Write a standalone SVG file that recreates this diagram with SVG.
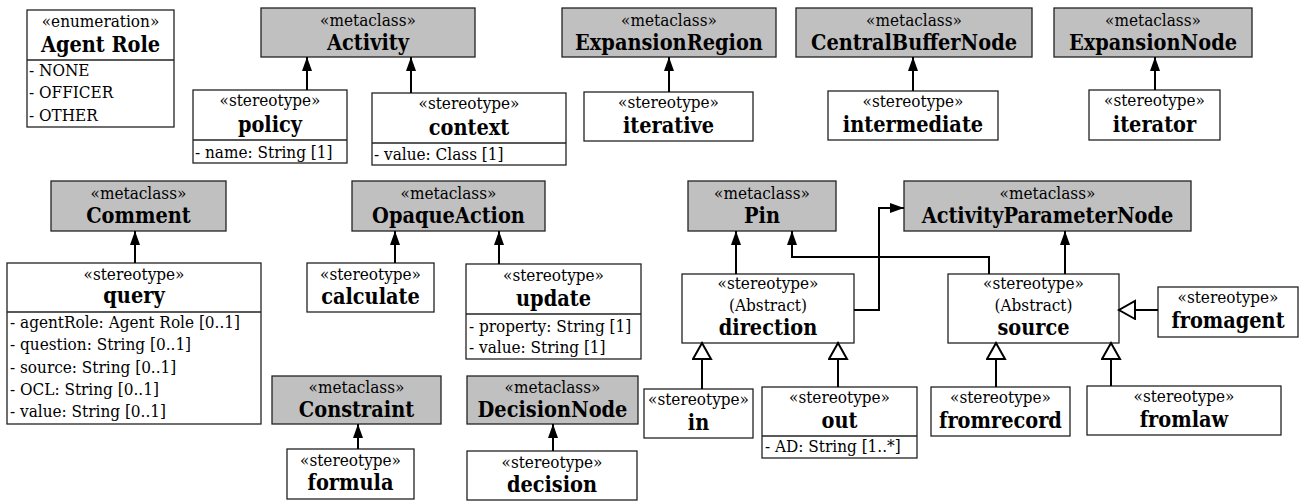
<svg xmlns="http://www.w3.org/2000/svg" width="1301" height="501" viewBox="0 0 1301 501">
  <style>
    .box { fill: #ffffff; stroke: #222222; stroke-width: 1.3; }
    .meta { fill: #c0c0c0; stroke: #222222; stroke-width: 1.3; }
    .div { stroke: #222222; stroke-width: 1.3; }
    .st { font-size: 17px; text-anchor: middle; }
    .ab { font-size: 17px; text-anchor: middle; }
    .tt { font-size: 21.5px; font-weight: bold; text-anchor: middle; }
    .at { font-size: 17px; }
    .ext { fill: none; stroke: #000; stroke-width: 2; marker-end: url(#filled); }
    .gen { fill: none; stroke: #000; stroke-width: 2; marker-end: url(#hollow); }
  </style>
  <defs>
    <marker id="filled" markerUnits="userSpaceOnUse" markerWidth="16" markerHeight="12" refX="14" refY="5.5" orient="auto">
      <path d="M0,0.5 L14,5.5 L0,10.5 z" fill="#000"/>
    </marker>
    <marker id="hollow" markerUnits="userSpaceOnUse" markerWidth="20" markerHeight="22" refX="17" refY="10" orient="auto">
      <path d="M1,1 L17,10 L1,19 z" fill="#fff" stroke="#000" stroke-width="2"/>
    </marker>
  </defs>
  <rect width="1301" height="501" fill="#ffffff"/>

  <g font-family="DejaVu Serif Condensed, DejaVu Serif, serif" font-stretch="condensed" fill="#000">
  <!-- enumeration -->
  <g id="agent-role">
    <rect class="box" x="27" y="10" width="147" height="117"/>
    <line class="div" x1="27" y1="60" x2="174" y2="60"/>
    <text class="st" x="100.5" y="27">«enumeration»</text>
    <text class="tt" x="100.5" y="52">Agent Role</text>
    <text class="at" x="29" y="76">- NONE</text>
    <text class="at" x="29" y="98">- OFFICER</text>
    <text class="at" x="29" y="121">- OTHER</text>
  </g>

  <!-- metaclasses -->
  <g id="activity">
    <rect class="meta" x="261" y="8" width="214" height="49"/>
    <text class="st" x="368" y="26">«metaclass»</text>
    <text class="tt" x="368" y="50">Activity</text>
  </g>
  <g id="expansion-region">
    <rect class="meta" x="562" y="8" width="214" height="49"/>
    <text class="st" x="669" y="26">«metaclass»</text>
    <text class="tt" x="669" y="50">ExpansionRegion</text>
  </g>
  <g id="central-buffer-node">
    <rect class="meta" x="796" y="8" width="236" height="49"/>
    <text class="st" x="914" y="26">«metaclass»</text>
    <text class="tt" x="914" y="50">CentralBufferNode</text>
  </g>
  <g id="expansion-node">
    <rect class="meta" x="1054" y="8" width="198" height="49"/>
    <text class="st" x="1153" y="26">«metaclass»</text>
    <text class="tt" x="1153" y="50">ExpansionNode</text>
  </g>
  <g id="comment">
    <rect class="meta" x="51" y="181" width="175" height="50"/>
    <text class="st" x="138.5" y="199">«metaclass»</text>
    <text class="tt" x="138.5" y="223">Comment</text>
  </g>
  <g id="opaque-action">
    <rect class="meta" x="352" y="181" width="193" height="50"/>
    <text class="st" x="448.5" y="199">«metaclass»</text>
    <text class="tt" x="448.5" y="223">OpaqueAction</text>
  </g>
  <g id="pin">
    <rect class="meta" x="688" y="181" width="148" height="50"/>
    <text class="st" x="762" y="199">«metaclass»</text>
    <text class="tt" x="762" y="223">Pin</text>
  </g>
  <g id="activity-parameter-node">
    <rect class="meta" x="904" y="181" width="287" height="50"/>
    <text class="st" x="1047.5" y="199">«metaclass»</text>
    <text class="tt" x="1047.5" y="223">ActivityParameterNode</text>
  </g>
  <g id="constraint">
    <rect class="meta" x="272" y="376" width="169" height="48"/>
    <text class="st" x="356.5" y="393">«metaclass»</text>
    <text class="tt" x="356.5" y="417">Constraint</text>
  </g>
  <g id="decision-node">
    <rect class="meta" x="467" y="376" width="171" height="48"/>
    <text class="st" x="552.5" y="393">«metaclass»</text>
    <text class="tt" x="552.5" y="417">DecisionNode</text>
  </g>

  <!-- stereotypes -->
  <g id="policy">
    <rect class="box" x="193" y="90" width="154" height="73"/>
    <line class="div" x1="193" y1="140" x2="347" y2="140"/>
    <text class="st" x="270" y="106">«stereotype»</text>
    <text class="tt" x="270" y="132">policy</text>
    <text class="at" x="195" y="158">- name: String [1]</text>
  </g>
  <g id="context">
    <rect class="box" x="372" y="93" width="194" height="72"/>
    <line class="div" x1="372" y1="143" x2="566" y2="143"/>
    <text class="st" x="469" y="109">«stereotype»</text>
    <text class="tt" x="469" y="135">context</text>
    <text class="at" x="374" y="160">- value: Class [1]</text>
  </g>
  <g id="iterative">
    <rect class="box" x="584" y="92" width="169" height="49"/>
    <text class="st" x="668.5" y="108">«stereotype»</text>
    <text class="tt" x="668.5" y="133">iterative</text>
  </g>
  <g id="intermediate">
    <rect class="box" x="828" y="91" width="170" height="49"/>
    <text class="st" x="913" y="107">«stereotype»</text>
    <text class="tt" x="913" y="132">intermediate</text>
  </g>
  <g id="iterator">
    <rect class="box" x="1089" y="90" width="131" height="50"/>
    <text class="st" x="1154.5" y="106">«stereotype»</text>
    <text class="tt" x="1154.5" y="132">iterator</text>
  </g>
  <g id="query">
    <rect class="box" x="7" y="263" width="254" height="161"/>
    <line class="div" x1="7" y1="312" x2="261" y2="312"/>
    <text class="st" x="134" y="280">«stereotype»</text>
    <text class="tt" x="134" y="303">query</text>
    <text class="at" x="10" y="328">- agentRole: Agent Role [0..1]</text>
    <text class="at" x="10" y="350">- question: String [0..1]</text>
    <text class="at" x="10" y="373">- source: String [0..1]</text>
    <text class="at" x="10" y="395">- OCL: String [0..1]</text>
    <text class="at" x="10" y="417">- value: String [0..1]</text>
  </g>
  <g id="calculate">
    <rect class="box" x="307" y="263" width="127" height="49"/>
    <text class="st" x="370.5" y="280">«stereotype»</text>
    <text class="tt" x="370.5" y="304">calculate</text>
  </g>
  <g id="update">
    <rect class="box" x="466" y="264" width="175" height="95"/>
    <line class="div" x1="466" y1="314" x2="641" y2="314"/>
    <text class="st" x="553.5" y="281">«stereotype»</text>
    <text class="tt" x="553.5" y="306">update</text>
    <text class="at" x="469" y="332">- property: String [1]</text>
    <text class="at" x="469" y="353">- value: String [1]</text>
  </g>
  <g id="formula">
    <rect class="box" x="287" y="449" width="127" height="50"/>
    <text class="st" x="350.5" y="466">«stereotype»</text>
    <text class="tt" x="350.5" y="490">formula</text>
  </g>
  <g id="decision">
    <rect class="box" x="467" y="451" width="170" height="49"/>
    <text class="st" x="552" y="468">«stereotype»</text>
    <text class="tt" x="552" y="492">decision</text>
  </g>
  <g id="direction">
    <rect class="box" x="682" y="274" width="172" height="69"/>
    <text class="st" x="768" y="289">«stereotype»</text>
    <text class="ab" x="768" y="311">(Abstract)</text>
    <text class="tt" x="768" y="335">direction</text>
  </g>
  <g id="source">
    <rect class="box" x="948" y="274" width="171" height="69"/>
    <text class="st" x="1033.5" y="289">«stereotype»</text>
    <text class="ab" x="1033.5" y="311">(Abstract)</text>
    <text class="tt" x="1033.5" y="335">source</text>
  </g>
  <g id="in">
    <rect class="box" x="644" y="389" width="109" height="49"/>
    <text class="st" x="698.5" y="405">«stereotype»</text>
    <text class="tt" x="698.5" y="430">in</text>
  </g>
  <g id="out">
    <rect class="box" x="762" y="387" width="155" height="71"/>
    <line class="div" x1="762" y1="436" x2="917" y2="436"/>
    <text class="st" x="839.5" y="403">«stereotype»</text>
    <text class="tt" x="839.5" y="428">out</text>
    <text class="at" x="765" y="452">- AD: String [1..*]</text>
  </g>
  <g id="fromagent">
    <rect class="box" x="1158" y="287" width="140" height="50"/>
    <text class="st" x="1228" y="303">«stereotype»</text>
    <text class="tt" x="1228" y="328">fromagent</text>
  </g>
  <g id="fromrecord">
    <rect class="box" x="931" y="387" width="139" height="49"/>
    <text class="st" x="1000.5" y="403">«stereotype»</text>
    <text class="tt" x="1000.5" y="428">fromrecord</text>
  </g>
  <g id="fromlaw">
    <rect class="box" x="1087" y="386" width="194" height="49"/>
    <text class="st" x="1184" y="402">«stereotype»</text>
    <text class="tt" x="1184" y="427">fromlaw</text>
  </g>
  </g>

  <!-- connectors -->
  <g id="connectors">
    <path class="ext" d="M307,90 V57"/>
    <path class="ext" d="M411,93 V57"/>
    <path class="ext" d="M669,92 V57"/>
    <path class="ext" d="M913,91 V57"/>
    <path class="ext" d="M1155,90 V57"/>
    <path class="ext" d="M135,263 V231"/>
    <path class="ext" d="M395,263 V231"/>
    <path class="ext" d="M499,264 V231"/>
    <path class="ext" d="M358,449 V424"/>
    <path class="ext" d="M553,451 V424"/>
    <path class="ext" d="M736,274 V231"/>
    <path class="ext" d="M989,274 V257 H792 V231"/>
    <path class="ext" d="M854,310 H879 V208 H904"/>
    <path class="ext" d="M1065,274 V231"/>
    <path class="gen" d="M702,389 V343"/>
    <path class="gen" d="M838,387 V343"/>
    <path class="gen" d="M996,387 V343"/>
    <path class="gen" d="M1111,386 V343"/>
    <path class="gen" d="M1158,310 H1119"/>
  </g>
</svg>
